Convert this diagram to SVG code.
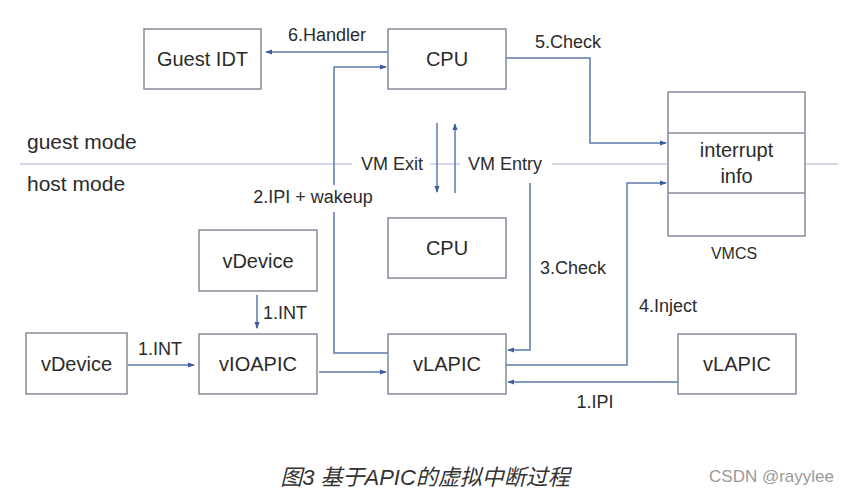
<svg xmlns="http://www.w3.org/2000/svg" width="849" height="496" viewBox="0 0 849 496">
<style>
.box{fill:#fff;stroke:#858a9a;stroke-width:1.5}
.n{font-family:"Liberation Sans",Arial,sans-serif;font-size:20px;fill:#2b2b2b;text-anchor:middle}
.l{font-family:"Liberation Sans",Arial,sans-serif;font-size:18px;fill:#2b2b2b;text-anchor:middle}
.m{font-family:"Liberation Sans",Arial,sans-serif;font-size:21px;fill:#2b2b2b}
.e{fill:none;stroke:#5d78ad;stroke-width:1.5}
.sep{fill:none;stroke:#a9b6cf;stroke-width:1.2}
</style>
<defs>
<marker id="a" viewBox="0 0 8 8" refX="7" refY="4" markerWidth="7" markerHeight="7" markerUnits="userSpaceOnUse" orient="auto">
<path d="M0,1 L8,4 L0,7 Z" fill="#3d5c9a"/>
</marker>
</defs>
<rect width="849" height="496" fill="#fff"/>

<g id="modes">
<path class="sep" d="M20,164 H352 M430,164 H460 M552,164 H838"/>
<text class="m" x="27" y="149">guest mode</text>
<text class="m" x="27" y="191">host mode</text>
</g>

<g id="connectors">
<path class="e" d="M388,52 H266" marker-end="url(#a)"/>
<path class="e" d="M388,353 H334 V212 M334,185 V67 H386" marker-end="url(#a)"/>
<path class="e" d="M506,58 H590 V143 H666" marker-end="url(#a)"/>
<path class="e" d="M437,123 V192" marker-end="url(#a)"/>
<path class="e" d="M455,193 V124" marker-end="url(#a)"/>
<path class="e" d="M530,183 V350 H508" marker-end="url(#a)"/>
<path class="e" d="M506,365 H627 V183 H666" marker-end="url(#a)"/>
<path class="e" d="M678,382 H508" marker-end="url(#a)"/>
<path class="e" d="M257,295 V328" marker-end="url(#a)"/>
<path class="e" d="M128,365 H194" marker-end="url(#a)"/>
<path class="e" d="M319,372 H386" marker-end="url(#a)"/>
<text class="l" x="327" y="41">6.Handler</text>
<text class="l" x="568" y="48">5.Check</text>
<text class="l" x="392" y="170">VM Exit</text>
<text class="l" x="505" y="170">VM Entry</text>
<text class="l" x="313" y="203">2.IPI + wakeup</text>
<text class="l" x="573" y="274">3.Check</text>
<text class="l" x="668" y="312">4.Inject</text>
<text class="l" x="595" y="408">1.IPI</text>
<text class="l" x="285" y="319">1.INT</text>
<text class="l" x="160" y="355">1.INT</text>
</g>

<g id="guest-idt"><rect class="box" x="144" y="29" width="117" height="60"/><text class="n" x="202.5" y="66">Guest IDT</text></g>
<g id="cpu-guest"><rect class="box" x="388" y="29" width="118" height="60"/><text class="n" x="447" y="66">CPU</text></g>
<g id="vmcs">
<rect class="box" x="668" y="92" width="137" height="144"/>
<path fill="none" stroke="#858a9a" stroke-width="1.5" d="M668,133 H805 M668,193 H805"/>
<text class="n" x="736.5" y="157">interrupt</text>
<text class="n" x="736.5" y="183">info</text>
<text class="n" x="734" y="259" style="font-size:16px">VMCS</text>
</g>
<g id="cpu-host"><rect class="box" x="388" y="218" width="118" height="60"/><text class="n" x="447" y="255">CPU</text></g>
<g id="vdevice-top"><rect class="box" x="199" y="230" width="118" height="61"/><text class="n" x="258" y="268">vDevice</text></g>
<g id="vdevice-left"><rect class="box" x="26" y="333" width="101" height="61"/><text class="n" x="76.5" y="371">vDevice</text></g>
<g id="vioapic"><rect class="box" x="199" y="334" width="118" height="60"/><text class="n" x="258" y="371">vIOAPIC</text></g>
<g id="vlapic"><rect class="box" x="388" y="334" width="118" height="60"/><text class="n" x="447" y="371">vLAPIC</text></g>
<g id="vlapic-remote"><rect class="box" x="678" y="334" width="118" height="60"/><text class="n" x="737" y="371">vLAPIC</text></g>

<g id="caption">
<text x="425" y="485" text-anchor="middle" font-family="'Liberation Sans','Noto Sans CJK SC',sans-serif" font-size="22" font-style="italic" fill="#333">图3 基于APIC的虚拟中断过程</text>
<text x="834" y="482" text-anchor="end" font-family="'Liberation Sans',Arial,sans-serif" font-size="17" fill="#9a9a9a">CSDN @rayylee</text>
</g>
</svg>
